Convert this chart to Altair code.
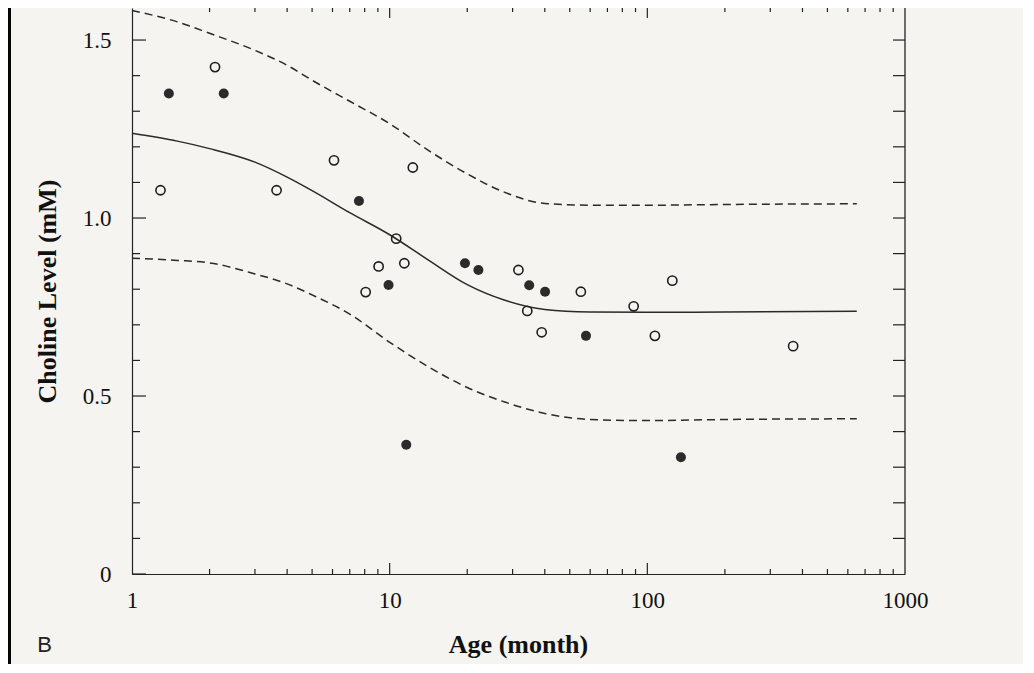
import altair as alt
import pandas as pd

# ---------------- data ----------------
filled_age = [1.39, 2.27, 7.6, 9.9, 11.6, 19.6, 22.1, 34.8, 40.1, 57.8, 135]
filled_val = [1.350, 1.350, 1.048, 0.812, 0.363, 0.873, 0.854, 0.811, 0.793, 0.669, 0.328]

open_age = [1.29, 2.10, 3.64, 6.08, 12.3, 10.6, 9.06, 11.4, 8.07, 31.6, 34.2, 55.2, 88.5, 125, 38.9, 107, 368]
open_val = [1.078, 1.424, 1.078, 1.162, 1.142, 0.942, 0.864, 0.873, 0.792, 0.854, 0.739, 0.793, 0.752, 0.824, 0.679, 0.669, 0.640]

fit_age = [1, 1.5, 2, 3, 4, 5, 7, 10, 14, 20, 28, 40, 60, 100, 200, 650]
fit_mid = [1.238, 1.216, 1.195, 1.157, 1.115, 1.077, 1.015, 0.953, 0.884, 0.813, 0.769, 0.743, 0.736, 0.735, 0.736, 0.738]
fit_upper = [1.583, 1.551, 1.519, 1.471, 1.429, 1.387, 1.328, 1.265, 1.192, 1.124, 1.072, 1.041, 1.036, 1.036, 1.038, 1.040]
fit_lower = [0.887, 0.881, 0.874, 0.843, 0.815, 0.784, 0.730, 0.651, 0.584, 0.524, 0.483, 0.451, 0.434, 0.431, 0.434, 0.436]

y_tick_labels = [0, 0.5, 1.0, 1.5]
y_minor = [0.1, 0.2, 0.3, 0.4, 0.6, 0.7, 0.8, 0.9, 1.1, 1.2, 1.3, 1.4]
x_tick_labels = [1, 10, 100, 1000]
x_major_inner = [10, 100]
x_minor = [2, 3, 4, 5, 6, 7, 8, 9, 20, 30, 40, 50, 60, 70, 80, 90,
           200, 300, 400, 500, 600, 700, 800, 900]

W, H = 773, 566
BG = "#f5f4f0"
INK = "#222222"
SERIF = "Liberation Serif"

xscale = alt.Scale(type="log", domain=[1, 1000], nice=False)
yscale = alt.Scale(domain=[0, 1.59], nice=False, zero=False)

x_axis = alt.Axis(
    values=x_tick_labels, format="d", ticks=False, tickSize=0, grid=False,
    domainColor=INK, domainWidth=1.2, labelFlush=False, labelOverlap=False,
    labelFont=SERIF, labelFontSize=23, labelColor="#111", labelPadding=15,
    title="Age (month)", titleFont=SERIF, titleFontSize=26, titleFontWeight="bold",
    titleColor="#111", titleX=386, titleY=78, titleAlign="center",
    titleBaseline="alphabetic",
)
y_axis = alt.Axis(
    values=y_tick_labels, ticks=False, tickSize=0, grid=False,
    labelExpr="datum.value == 0 ? '0' : format(datum.value, '.1f')",
    domainColor=INK, domainWidth=1.2, labelFlush=False, labelOverlap=False,
    labelFont=SERIF, labelFontSize=23, labelColor="#111", labelPadding=21,
    title="Choline Level (mM)", titleFont=SERIF, titleFontSize=26,
    titleFontWeight="bold", titleColor="#111", titleX=-85, titleY=283,
    titleAngle=270, titleAlign="center", titleBaseline="middle",
)

X = alt.X("age:Q", scale=xscale, axis=x_axis)
Y = alt.Y("value:Q", scale=yscale, axis=y_axis)

fit_df = pd.DataFrame({"age": fit_age, "value": fit_mid})
band_df = pd.concat([
    pd.DataFrame({"age": fit_age, "value": fit_upper, "curve": "upper"}),
    pd.DataFrame({"age": fit_age, "value": fit_lower, "curve": "lower"}),
])
filled_df = pd.DataFrame({"age": filled_age, "value": filled_val})
open_df = pd.DataFrame({"age": open_age, "value": open_val})

mid_line = alt.Chart(fit_df).mark_line(
    color="#2a2a2a", strokeWidth=1.5, interpolate="monotone"
).encode(x=X, y=Y)

band_lines = alt.Chart(band_df).mark_line(
    color="#2a2a2a", strokeWidth=1.5, strokeDash=[8, 5], interpolate="monotone"
).encode(x=X, y=Y, detail="curve:N")

open_pts = alt.Chart(open_df).mark_point(
    shape="circle", filled=False, size=85, stroke="#1e1e1e", strokeWidth=1.6, opacity=1
).encode(x=X, y=Y)

filled_pts = alt.Chart(filled_df).mark_circle(
    size=100, color="#2b2b2b", opacity=1
).encode(x=X, y=Y)

# ---- inward-pointing ticks (frame decoration) ----
ymaj_df = pd.DataFrame({"value": y_tick_labels})
ymin_df = pd.DataFrame({"value": y_minor})
yall_df = pd.DataFrame({"value": y_minor + [0.5, 1.0, 1.5]})
xmaj_df = pd.DataFrame({"age": x_major_inner})
xmin_df = pd.DataFrame({"age": x_minor})

tick_style = dict(color=INK, strokeWidth=1.2)

left_major = alt.Chart(ymaj_df).mark_rule(**tick_style).encode(
    y=Y, x=alt.value(0), x2=alt.value(14))
left_minor = alt.Chart(ymin_df).mark_rule(**tick_style).encode(
    y=Y, x=alt.value(0), x2=alt.value(8))
right_ticks = alt.Chart(yall_df).mark_rule(**tick_style).encode(
    y=Y, x=alt.value(W), x2=alt.value(W - 12))
bottom_major = alt.Chart(xmaj_df).mark_rule(**tick_style).encode(
    x=X, y=alt.value(H), y2=alt.value(H - 11))
bottom_minor = alt.Chart(xmin_df).mark_rule(**tick_style).encode(
    x=X, y=alt.value(H), y2=alt.value(H - 5))
top_major = alt.Chart(xmaj_df).mark_rule(**tick_style).encode(
    x=X, y=alt.value(0), y2=alt.value(10))
top_minor = alt.Chart(xmin_df).mark_rule(**tick_style).encode(
    x=X, y=alt.value(0), y2=alt.value(4))
right_border = alt.Chart(ymaj_df.head(1)).mark_rule(color=INK, strokeWidth=1.3).encode(
    x=alt.value(W), y=alt.value(0), y2=alt.value(H))

# panel letter and scanned page edge
letter = alt.Chart(pd.DataFrame({"t": ["B"]})).mark_text(
    font="Liberation Sans", fontSize=22, color="#222", align="center", baseline="middle"
).encode(text="t:N", x=alt.value(-87.5), y=alt.value(637))
page_edge = alt.Chart(pd.DataFrame({"t": ["edge"]})).mark_rule(
    color="#050505", strokeWidth=3
).encode(x=alt.value(-122.5), y=alt.value(-8), y2=alt.value(H + 100))

chart = alt.layer(
    band_lines, mid_line, open_pts, filled_pts,
    left_major, left_minor, right_ticks, bottom_major, bottom_minor,
    top_major, top_minor, right_border, letter, page_edge,
).properties(
    width=W, height=H,
    autosize=alt.AutoSizeParams(type="none"),
    padding={"left": 124, "top": 0, "right": 118, "bottom": 90},
    background=BG,
).configure_view(stroke=None)

chart.save("out.html", embed_options={"renderer": "svg", "actions": False})
